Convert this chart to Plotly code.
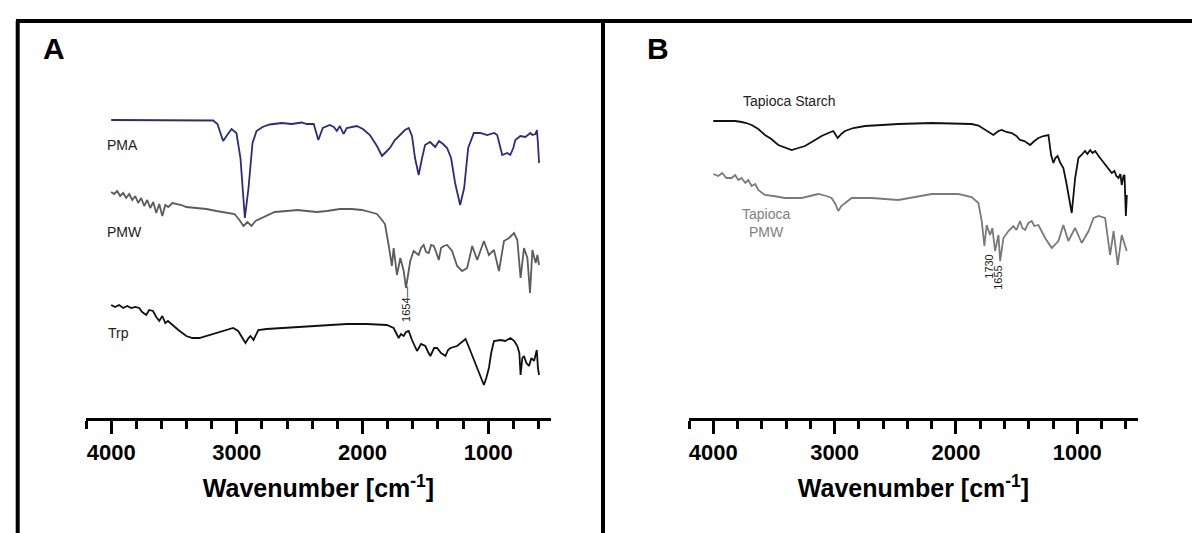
import plotly.graph_objects as go

# ---------------- Panel A data (wavenumber cm-1, offset transmittance a.u.) ----------------
pma_wn = [4000, 3641, 3188, 3154, 3109, 3082, 3042, 3003, 2971, 2936, 2907, 2875, 2843, 2795, 2739,
          2643, 2564, 2484, 2444, 2388, 2351, 2316, 2260, 2228, 2204, 2180, 2151, 2125, 2045, 1997,
          1941, 1885, 1845, 1813, 1782, 1742, 1702, 1662, 1632, 1606, 1582, 1553, 1526, 1502, 1462,
          1422, 1391, 1359, 1327, 1295, 1263, 1223, 1191, 1159, 1114, 1063, 1008, 952, 928, 904,
          888, 848, 824, 800, 784, 744, 704, 664, 648, 624, 612, 604, 595]
pma_t = [298, 298, 297.5, 294, 277, 282, 289, 285, 260, 200, 230, 275, 287, 291, 293.5,
         295, 294, 295.5, 294, 294, 278, 290, 293, 291, 287, 292, 284, 290, 292, 289,
         283, 272, 262, 266, 270, 278, 283, 288, 290, 282, 260, 243, 260, 273, 276,
         271, 277, 274, 270, 260, 235, 213, 230, 270, 285, 285, 283, 285, 283, 270,
         263, 265, 263, 270, 278, 282, 281, 285, 283, 284, 288, 275, 255]

pmw_wn = [4000, 3976, 3952, 3928, 3904, 3880, 3856, 3832, 3808, 3785, 3761, 3737, 3713, 3689, 3665,
          3641, 3617, 3593, 3569, 3545, 3513, 3481, 3441, 3402, 3322, 3242, 3162, 3082, 3018, 2979,
          2947, 2915, 2883, 2851, 2819, 2763, 2699, 2604, 2516, 2444, 2364, 2284, 2180, 2085, 2005,
          1941, 1885, 1845, 1821, 1792, 1766, 1752, 1726, 1699, 1672, 1654, 1620, 1593, 1553, 1534,
          1513, 1494, 1473, 1454, 1433, 1414, 1393, 1375, 1353, 1327, 1287, 1247, 1207, 1167, 1127,
          1087, 1034, 994, 954, 914, 874, 834, 794, 768, 742, 715, 688, 667, 648, 622, 608, 595]
pmw_t = [226, 224, 227, 222, 225, 220, 224, 218, 222, 215, 220, 212, 218, 210, 216,
         205, 214, 202, 213, 211, 215, 214, 213, 211, 210, 209, 207, 205, 204, 198,
         192, 196, 192, 197, 199, 202, 206, 207, 208, 207, 206, 207, 209, 209, 208,
         206, 204, 198, 194, 173, 152, 170, 143, 160, 147, 130, 157, 167, 163, 170,
         173, 166, 165, 173, 172, 166, 158, 170, 172, 173, 167, 152, 147, 150, 172,
         158, 177, 163, 168, 147, 177, 180, 185, 178, 140, 170, 160, 125, 168, 155, 163, 153]

trp_wn = [4000, 3968, 3936, 3904, 3872, 3840, 3808, 3777, 3753, 3721, 3697, 3667, 3641, 3617, 3593,
          3569, 3548, 3513, 3465, 3402, 3354, 3298, 3218, 3122, 3029, 2989, 2955, 2931, 2907, 2891,
          2867, 2829, 2763, 2643, 2524, 2364, 2125, 1965, 1806, 1752, 1712, 1694, 1672, 1654, 1632,
          1606, 1566, 1534, 1500, 1478, 1460, 1430, 1406, 1375, 1340, 1319, 1300, 1247, 1207, 1180,
          1141, 1111, 1087, 1055, 1034, 1015, 994, 976, 954, 901, 864, 822, 792, 768, 752,
          742, 728, 715, 696, 675, 656, 635, 624, 613, 604, 595]
trp_t = [113, 111, 113, 110, 112, 110, 111, 110, 106, 103, 108, 107, 101, 97, 102,
         95, 97, 93, 88, 82, 80, 80, 83, 87, 90, 87, 80, 75, 80, 82,
         78, 88, 89, 90, 91, 92, 94, 94, 93, 90, 80, 84, 82, 86, 87,
         78, 67, 74, 72, 66, 62, 70, 70, 65, 62, 68, 70, 72, 76, 79,
         67, 58, 50, 40, 33, 40, 50, 65, 77, 78, 77, 80, 77, 72, 65,
         43, 60, 62, 55, 52, 60, 57, 62, 68, 50, 43]

# ---------------- Panel B data ----------------
tsta_wn = [4000, 3942, 3876, 3819, 3767, 3728, 3684, 3629, 3574, 3522, 3464, 3406, 3354, 3299, 3244,
           3175, 3107, 3052, 3011, 2975, 2945, 2914, 2846, 2749, 2640, 2475, 2200, 2021, 1871, 1815,
           1760, 1692, 1650, 1623, 1584, 1541, 1502, 1472, 1436, 1389, 1354, 1321, 1279, 1238, 1216,
           1197, 1181, 1162, 1140, 1115, 1090, 1074, 1046, 1018, 991, 966, 936, 917, 894, 875,
           853, 825, 800, 770, 744, 716, 694, 678, 661, 645, 634, 620, 611, 603, 600, 592]
tsta_t = [297, 297, 296.5, 297, 296, 295, 293, 289, 283, 279, 273, 270, 268, 270, 272,
          277, 282, 285, 287, 280, 284, 287, 290, 292, 293, 294, 295, 294.5, 294, 292.5,
          288, 283, 287, 288, 286, 285, 282, 278, 277, 273, 277, 280, 282, 283, 263,
          255, 260, 262, 255, 250, 235, 223, 205, 240, 260, 263, 267, 264, 268, 265,
          267, 262, 258, 253, 250, 245, 247, 242, 240, 244, 233, 242, 243, 210, 202, 223]

tpmw_wn = [4000, 3959, 3926, 3893, 3849, 3819, 3794, 3767, 3736, 3711, 3684, 3654, 3629, 3574, 3505,
           3409, 3272, 3134, 3068, 3025, 2994, 2970, 2945, 2914, 2860, 2695, 2475, 2200, 1980, 1871,
           1815, 1788, 1766, 1747, 1719, 1700, 1678, 1650, 1636, 1609, 1568, 1527, 1502, 1472, 1453,
           1430, 1403, 1376, 1354, 1321, 1265, 1211, 1156, 1115, 1074, 1018, 964, 907, 866, 825,
           771, 730, 701, 667, 634, 593]
tpmw_t = [244, 242, 245, 240, 240, 243, 238, 240, 235, 238, 232, 234, 228, 223, 222,
          220, 220, 224, 222, 220, 214, 207, 212, 215, 220, 220, 218, 224, 224, 221,
          215, 197, 172, 193, 183, 190, 167, 183, 157, 180, 187, 192, 188, 197, 190,
          188, 195, 197, 192, 193, 180, 170, 177, 193, 177, 190, 175, 187, 200, 202,
          200, 163, 187, 153, 183, 167]

# ---------------- Text ----------------
axis_title = "<b>Wavenumber [cm<sup>-1</sup>]</b>"
tick_vals = [4000, 3000, 2000, 1000]
tick_text = ["4000", "3000", "2000", "1000"]

FONT = "Liberation Sans, Arial, Helvetica, sans-serif"

fig = go.Figure()
lw = 1.8
fig.add_trace(go.Scatter(x=pma_wn, y=pma_t, mode="lines", line=dict(color="#2b2b80", width=lw),
                         xaxis="x", yaxis="y", showlegend=False))
fig.add_trace(go.Scatter(x=pmw_wn, y=pmw_t, mode="lines", line=dict(color="#5c5c5c", width=lw),
                         xaxis="x", yaxis="y", showlegend=False))
fig.add_trace(go.Scatter(x=trp_wn, y=trp_t, mode="lines", line=dict(color="#111111", width=lw),
                         xaxis="x", yaxis="y", showlegend=False))
fig.add_trace(go.Scatter(x=tsta_wn, y=tsta_t, mode="lines", line=dict(color="#111111", width=lw),
                         xaxis="x2", yaxis="y2", showlegend=False))
fig.add_trace(go.Scatter(x=tpmw_wn, y=tpmw_t, mode="lines", line=dict(color="#7a7a7a", width=lw),
                         xaxis="x2", yaxis="y2", showlegend=False))

W, H = 1200, 533
ydom = [(H - 410) / H, (H - 60) / H]

def xaxis_cfg(domain):
    return dict(
        domain=domain, range=[4200, 500], showline=True, linewidth=3, linecolor="black",
        ticks="outside", ticklen=13, tickwidth=2.5, tickcolor="black",
        tickvals=tick_vals, ticktext=tick_text,
        tickfont=dict(family=FONT, size=22, color="black", weight="bold"),
        minor=dict(ticks="outside", ticklen=8, tickwidth=2.5, tickcolor="black", dtick=200, tick0=0),
        showgrid=False, zeroline=False, anchor=None,
        title=dict(text=axis_title, font=dict(family=FONT, size=25, color="black"), standoff=16),
        fixedrange=True,
    )

xa = xaxis_cfg([78 / W, 543 / W]); xa["anchor"] = "y"
xb = xaxis_cfg([681 / W, 1130 / W]); xb["anchor"] = "y2"

fig.update_layout(
    width=W, height=H, margin=dict(l=0, r=0, t=0, b=0),
    paper_bgcolor="white", plot_bgcolor="white",
    xaxis=xa, xaxis2=xb,
    yaxis=dict(domain=ydom, range=[0, 350], visible=False, anchor="x"),
    yaxis2=dict(domain=ydom, range=[0, 350], visible=False, anchor="x2"),
    font=dict(family=FONT, color="black"),
)

# frame lines
frame = dict(color="black", width=4)
fig.add_shape(type="line", xref="paper", yref="paper", x0=8 / W, x1=1.0, y0=1 - 13 / H, y1=1 - 13 / H, line=frame)
fig.add_shape(type="line", xref="paper", yref="paper", x0=9.7 / W, x1=9.7 / W, y0=0, y1=1 - 13 / H, line=frame)
fig.add_shape(type="line", xref="paper", yref="paper", x0=595 / W, x1=595 / W, y0=0, y1=1 - 13 / H, line=frame)

# panel letters
for txt, px in [("A", 33), ("B", 637)]:
    fig.add_annotation(text="<b>%s</b>" % txt, xref="paper", yref="paper", x=px / W, y=1 - 41 / H,
                       xanchor="left", yanchor="middle", showarrow=False,
                       font=dict(family=FONT, size=30, color="black"))

# series labels
lab = dict(showarrow=False, font=dict(family=FONT, size=14, color="#222222"))
fig.add_annotation(text="PMA", x=4048, y=273, xref="x", yref="y", xanchor="left", yanchor="middle", **lab)
fig.add_annotation(text="PMW", x=4048, y=186, xref="x", yref="y", xanchor="left", yanchor="middle", **lab)
fig.add_annotation(text="Trp", x=4040, y=85, xref="x", yref="y", xanchor="left", yanchor="middle", **lab)
fig.add_annotation(text="Tapioca Starch", x=3373, y=317, xref="x2", yref="y2", xanchor="center",
                   yanchor="middle", **lab)
fig.add_annotation(text="Tapioca<br>PMW", x=3563, y=195, xref="x2", yref="y2", xanchor="center",
                   yanchor="middle", showarrow=False,
                   font=dict(family=FONT, size=14, color="#808080"))

# peak labels (rotated)
pk = dict(showarrow=False, textangle=-90, font=dict(family=FONT, size=11, color="#222222"))
fig.add_annotation(text="1654—", x=1654, y=114, xref="x", yref="y", xanchor="center", yanchor="middle", **pk)
fig.add_annotation(text="1730", x=1730, y=151, xref="x2", yref="y2", xanchor="center", yanchor="middle", **pk)
fig.add_annotation(text="1655", x=1655, y=140, xref="x2", yref="y2", xanchor="center", yanchor="middle", **pk)

fig.write_html("out.html")
